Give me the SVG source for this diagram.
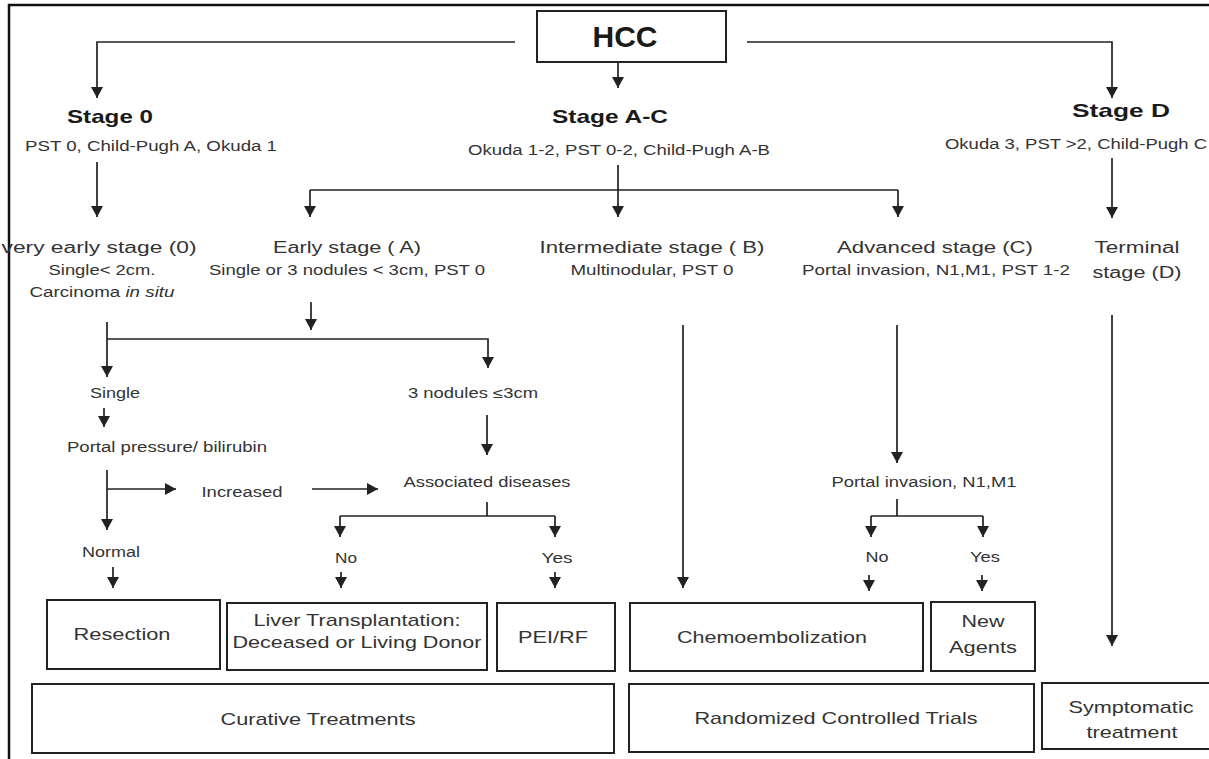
<svg xmlns="http://www.w3.org/2000/svg" width="1209" height="759" viewBox="0 0 1209 759">
<style>
text{font-family:"Liberation Sans",Arial,sans-serif;fill:#333;text-anchor:middle}
.h{font-weight:bold;fill:#1a1a1a;font-size:19px}
.t{font-size:16px}
.s{font-size:14px}
.b{font-size:17px}
.box{fill:#fff;stroke:#222;stroke-width:2}
.c path{fill:none;stroke:#222;stroke-width:1.7}
.a{marker-end:url(#arr)}
</style>
<defs>
<marker id="arr" markerUnits="userSpaceOnUse" markerWidth="12" markerHeight="12" refX="11" refY="6" orient="auto">
<path d="M0,0 L11,6 L0,12 z" fill="#222"/>
</marker>
</defs>
<rect width="1209" height="759" fill="#fff"/>
<path d="M9,759 V5 H1209" fill="none" stroke="#111" stroke-width="2.5"/>

<g class="c" id="connectors">
<path class="a" d="M515,42 H97 V98"/>
<path class="a" d="M747,42 H1112 V98"/>
<path class="a" d="M618,62 V88"/>
<path class="a" d="M97,162 V217"/>
<path d="M618,165 V190 M310,190 H898"/>
<path class="a" d="M310,190 V217"/>
<path class="a" d="M618,190 V217"/>
<path class="a" d="M898,190 V217"/>
<path class="a" d="M1112,158 V218"/>
<path class="a" d="M311,302 V330"/>
<path class="a" d="M107,322 V377"/>
<path class="a" d="M107,339 H488 V368"/>
<path class="a" d="M104,408 V427"/>
<path class="a" d="M487,415 V455"/>
<path class="a" d="M107,470 V530"/>
<path class="a" d="M107,489 H176"/>
<path class="a" d="M312,489 H378"/>
<path d="M487,502 V516 M340,516 H555"/>
<path class="a" d="M340,516 V537"/>
<path class="a" d="M555,516 V537"/>
<path class="a" d="M113,567 V588"/>
<path class="a" d="M341,572 V588"/>
<path class="a" d="M555,572 V588"/>
<path class="a" d="M683,325 V588"/>
<path class="a" d="M897,325 V463"/>
<path d="M897,499 V516 M871,516 H983"/>
<path class="a" d="M871,516 V537"/>
<path class="a" d="M983,516 V537"/>
<path class="a" d="M869,575 V591"/>
<path class="a" d="M982,575 V591"/>
<path class="a" d="M1112,315 V646"/>
</g>

<g id="hcc">
<rect class="box" x="537" y="11" width="189" height="51" stroke-width="1.8"/>
<text x="625" y="47" style="font-weight:bold;font-size:30px;fill:#1a1a1a" textLength="65" lengthAdjust="spacingAndGlyphs">HCC</text>
</g>

<g id="stage0">
<text class="h" x="110" y="123" textLength="86" lengthAdjust="spacingAndGlyphs">Stage 0</text>
<text class="s" x="151" y="151" textLength="252" lengthAdjust="spacingAndGlyphs">PST 0, Child-Pugh A, Okuda 1</text>
</g>
<g id="stageAC">
<text class="h" x="610" y="123" textLength="116" lengthAdjust="spacingAndGlyphs">Stage A-C</text>
<text class="s" x="619" y="155" textLength="302" lengthAdjust="spacingAndGlyphs">Okuda 1-2, PST 0-2, Child-Pugh A-B</text>
</g>
<g id="stageD">
<text class="h" x="1121" y="117" textLength="98" lengthAdjust="spacingAndGlyphs">Stage  D</text>
<text class="s" x="1076" y="149" textLength="262" lengthAdjust="spacingAndGlyphs">Okuda 3, PST &gt;2, Child-Pugh C</text>
</g>

<g id="veryEarly">
<text class="t" x="99" y="253" textLength="195" lengthAdjust="spacingAndGlyphs">very early stage (0)</text>
<text class="s" x="102" y="275" textLength="107" lengthAdjust="spacingAndGlyphs">Single&lt; 2cm.</text>
<text class="s" x="102" y="297" textLength="145" lengthAdjust="spacingAndGlyphs">Carcinoma <tspan font-style="italic">in situ</tspan></text>
</g>
<g id="early">
<text class="t" x="347" y="253" textLength="148" lengthAdjust="spacingAndGlyphs">Early stage ( A)</text>
<text class="s" x="347" y="275" textLength="276" lengthAdjust="spacingAndGlyphs">Single or 3 nodules &lt; 3cm, PST 0</text>
</g>
<g id="intermediate">
<text class="t" x="652" y="253" textLength="225" lengthAdjust="spacingAndGlyphs">Intermediate  stage ( B)</text>
<text class="s" x="652" y="275" textLength="163" lengthAdjust="spacingAndGlyphs">Multinodular, PST 0</text>
</g>
<g id="advanced">
<text class="t" x="935" y="253" textLength="196" lengthAdjust="spacingAndGlyphs">Advanced  stage (C)</text>
<text class="s" x="936" y="275" textLength="268" lengthAdjust="spacingAndGlyphs">Portal invasion, N1,M1, PST 1-2</text>
</g>
<g id="terminal">
<text class="t" x="1137" y="253" textLength="85" lengthAdjust="spacingAndGlyphs">Terminal</text>
<text class="t" x="1137" y="278" textLength="89" lengthAdjust="spacingAndGlyphs">stage (D)</text>
</g>

<g id="single"><text class="s" x="115" y="398" textLength="50" lengthAdjust="spacingAndGlyphs">Single</text></g>
<g id="nodules"><text class="s" x="473" y="398" textLength="130" lengthAdjust="spacingAndGlyphs">3 nodules ≤3cm</text></g>
<g id="portalPressure"><text class="s" x="167" y="452" textLength="200" lengthAdjust="spacingAndGlyphs">Portal pressure/ bilirubin</text></g>
<g id="increased"><text class="s" x="242" y="497" textLength="81" lengthAdjust="spacingAndGlyphs">Increased</text></g>
<g id="associated"><text class="s" x="487" y="487" textLength="167" lengthAdjust="spacingAndGlyphs">Associated diseases</text></g>
<g id="portalInvasion"><text class="s" x="924" y="487" textLength="185" lengthAdjust="spacingAndGlyphs">Portal invasion, N1,M1</text></g>
<g id="normal"><text class="s" x="111" y="557" textLength="58" lengthAdjust="spacingAndGlyphs">Normal</text></g>
<g id="noL"><text class="s" x="346" y="563" textLength="22" lengthAdjust="spacingAndGlyphs">No</text></g>
<g id="yesL"><text class="s" x="557" y="563" textLength="31" lengthAdjust="spacingAndGlyphs">Yes</text></g>
<g id="noR"><text class="s" x="877" y="562" textLength="23" lengthAdjust="spacingAndGlyphs">No</text></g>
<g id="yesR"><text class="s" x="985" y="562" textLength="30" lengthAdjust="spacingAndGlyphs">Yes</text></g>

<g id="resection">
<rect class="box" x="47" y="600" width="173" height="69"/>
<text class="b" x="122" y="640" textLength="97" lengthAdjust="spacingAndGlyphs">Resection</text>
</g>
<g id="liverTx">
<rect class="box" x="227" y="603" width="260" height="67"/>
<text class="b" x="357" y="626" textLength="207" lengthAdjust="spacingAndGlyphs">Liver Transplantation:</text>
<text class="b" x="357" y="648" textLength="249" lengthAdjust="spacingAndGlyphs">Deceased or Living Donor</text>
</g>
<g id="pei">
<rect class="box" x="497" y="603" width="118" height="68"/>
<text class="b" x="553" y="643" textLength="70" lengthAdjust="spacingAndGlyphs">PEI/RF</text>
</g>
<g id="chemo">
<rect class="box" x="630" y="603" width="293" height="68"/>
<text class="b" x="772" y="643" textLength="190" lengthAdjust="spacingAndGlyphs">Chemoembolization</text>
</g>
<g id="newAgents">
<rect class="box" x="931" y="602" width="104" height="69"/>
<text class="b" x="983" y="627" textLength="43" lengthAdjust="spacingAndGlyphs">New</text>
<text class="b" x="983" y="653" textLength="68" lengthAdjust="spacingAndGlyphs">Agents</text>
</g>
<g id="curative">
<rect class="box" x="32" y="684" width="582" height="69"/>
<text class="b" x="318" y="725" textLength="195" lengthAdjust="spacingAndGlyphs">Curative Treatments</text>
</g>
<g id="rct">
<rect class="box" x="629" y="684" width="405" height="68"/>
<text class="b" x="836" y="724" textLength="283" lengthAdjust="spacingAndGlyphs">Randomized Controlled Trials</text>
</g>
<g id="symptomatic">
<rect class="box" x="1042" y="683" width="180" height="66"/>
<text class="b" x="1131" y="713" textLength="125" lengthAdjust="spacingAndGlyphs">Symptomatic</text>
<text class="b" x="1132" y="738" textLength="91" lengthAdjust="spacingAndGlyphs">treatment</text>
</g>
</svg>
